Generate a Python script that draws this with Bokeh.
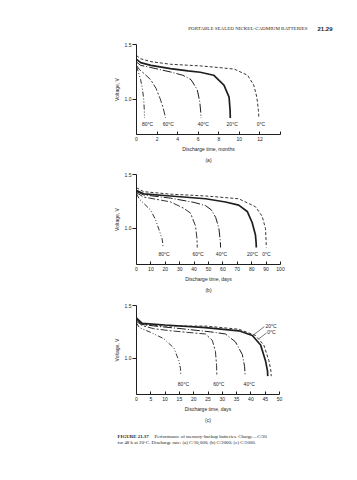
from bokeh.plotting import figure
from bokeh.layouts import column
from bokeh.models import Range1d, FixedTicker, Label, Title, Plot
from bokeh.embed import file_html
from bokeh.resources import INLINE

# ---------------- data ----------------
temps = ["80°C", "60°C", "40°C", "20°C", "0°C"]

# (a) discharge time in months
a_80_x = [0, 0.15, 0.4, 0.6, 0.7, 0.76, 0.78]
a_80_y = [1.30, 1.26, 1.18, 1.08, 1.00, 0.90, 0.83]
a_60_x = [0, 0.3, 0.8, 1.37, 1.9, 2.3, 2.6, 2.75, 2.82]
a_60_y = [1.31, 1.27, 1.23, 1.18, 1.10, 1.006, 0.92, 0.86, 0.83]
a_40_x = [0, 0.4, 1.4, 3.3, 4.5, 5.3, 5.9, 6.15, 6.25, 6.27]
a_40_y = [1.34, 1.31, 1.29, 1.25, 1.22, 1.18, 1.09, 0.98, 0.88, 0.83]
a_20_x = [0, 0.4, 1.4, 3.3, 5.0, 6.2, 7.5, 8.5, 9.0, 9.1, 9.12]
a_20_y = [1.365, 1.335, 1.31, 1.28, 1.26, 1.247, 1.22, 1.13, 1.02, 0.90, 0.83]
a_0_x = [0, 0.4, 1.4, 3.3, 6.2, 8.0, 9.5, 10.8, 11.4, 11.7, 11.85, 11.9]
a_0_y = [1.40, 1.37, 1.344, 1.32, 1.305, 1.29, 1.276, 1.22, 1.13, 1.02, 0.90, 0.83]
a_ticks = [0, 2, 4, 6, 8, 10, 12, 14]

# (b) discharge time in days
b_80_x = [0, 2, 5.1, 9.7, 13.2, 16.2, 17.8, 18.3, 18.4]
b_80_y = [1.32, 1.27, 1.23, 1.17, 1.08, 0.965, 0.90, 0.85, 0.82]
b_60_x = [0, 5, 23.6, 32.9, 37.5, 41, 42, 42.2]
b_60_y = [1.33, 1.29, 1.245, 1.185, 1.14, 1.02, 0.90, 0.82]
b_40_x = [0, 5, 23.6, 40, 48, 52, 55, 57.2, 58.2, 58.4]
b_40_y = [1.34, 1.31, 1.28, 1.24, 1.21, 1.17, 1.10, 1.00, 0.88, 0.82]
b_20_x = [0, 5, 23.6, 48, 61.8, 71, 76.9, 80.3, 82.6, 83.1, 83.2]
b_20_y = [1.35, 1.32, 1.30, 1.274, 1.244, 1.215, 1.156, 1.053, 0.936, 0.86, 0.82]
b_0_x = [0, 5, 23.6, 48, 71, 82.6, 87.3, 89.6, 90, 90.1]
b_0_y = [1.377, 1.34, 1.317, 1.30, 1.274, 1.20, 1.11, 0.995, 0.88, 0.82]
b_ticks = [0, 10, 20, 30, 40, 50, 60, 70, 80, 90, 100]

# (c) discharge time in days
c_80_x = [0, 1, 4.9, 9.5, 13.1, 14.8, 15.4, 15.5]
c_80_y = [1.335, 1.29, 1.246, 1.186, 1.096, 0.977, 0.90, 0.84]
c_60_x = [0, 2, 6, 12, 20, 24.1, 26.5, 27.6, 28, 28.1]
c_60_y = [1.35, 1.31, 1.28, 1.26, 1.24, 1.23, 1.17, 1.066, 0.93, 0.83]
c_40_x = [0, 2, 8, 14, 25.9, 31.1, 34.6, 37, 37.8, 38]
c_40_y = [1.36, 1.32, 1.30, 1.285, 1.25, 1.23, 1.155, 1.035, 0.92, 0.83]
c_20_x = [0, 2, 10, 24.1, 35.8, 40.5, 43.4, 45.1, 45.8, 45.9]
c_20_y = [1.38, 1.33, 1.315, 1.29, 1.26, 1.216, 1.126, 0.977, 0.88, 0.83]
c_0_x = [0, 2, 10, 24.1, 35.8, 41.6, 44.5, 46.3, 47, 47.1]
c_0_y = [1.37, 1.32, 1.305, 1.305, 1.275, 1.216, 1.126, 0.977, 0.88, 0.83]
c_ticks = [0, 5, 10, 15, 20, 25, 30, 35, 40, 45, 50]

y_ticks = [1.0, 1.5]
y_tick_labels = ["1.0", "1.5"]

header_text = "PORTABLE SEALED NICKEL-CADMIUM BATTERIES"
page_number = "21.29"
caption_head = "FIGURE 21.37"
caption_line1 = "Performance of memory-backup batteries. Charge\u2014C/30"
caption_line2 = "for 48 h at 20°C. Discharge rate: (a) C/10,000; (b) C/2000; (c) C/1000."

# ---------------- styles ----------------
INK = "#1e1e1e"
SANS = "Liberation Sans"
SERIF = "Liberation Serif"
FS = "5px"
CAP_FS = "4.9px"
line_style = {
    "80°C": dict(line_dash="5 2 1 2 1 2", line_width=0.9),
    "60°C": dict(line_dash="7 2 2 2", line_width=0.9),
    "40°C": dict(line_dash="9 2 1 2", line_width=1.0),
    "20°C": dict(line_dash="solid", line_width=1.7),
    "0°C": dict(line_dash="3 2", line_width=0.9),
}
HAS_FRAME_ALIGN = "frame_align" in Plot.properties()


def no_align(p):
    if HAS_FRAME_ALIGN:
        p.frame_align = False


def blank_fig(height):
    p = figure(width=357, height=height, output_backend="svg",
               toolbar_location=None, x_range=Range1d(0, 357),
               y_range=Range1d(height, 0), x_axis_type=None, y_axis_type=None,
               min_border=0)
    p.outline_line_color = None
    p.background_fill_color = "white"
    p.border_fill_color = "white"
    no_align(p)
    return p


def make_fig(height, top, bottom, x_end, y_start, ticks, x_label, series,
             sub, tick_overrides=None, right=77):
    p = figure(width=357, height=height, output_backend="svg",
               toolbar_location=None, x_range=Range1d(0, x_end),
               y_range=Range1d(y_start, 1.5), min_border_left=136,
               min_border_right=right, min_border_top=top,
               min_border_bottom=bottom)
    no_align(p)
    p.outline_line_color = None
    p.xgrid.visible = False
    p.ygrid.visible = False
    p.background_fill_color = "white"
    p.border_fill_color = "white"
    for t, (xs, ys) in zip(temps, series):
        p.line(xs, ys, line_color=INK, **line_style[t])
    xa = p.xaxis[0]
    xa.ticker = FixedTicker(ticks=ticks)
    xa.minor_tick_line_color = None
    xa.major_tick_in = 3
    xa.major_tick_out = 0
    xa.major_label_standoff = 2
    xa.axis_label = x_label
    xa.axis_label_standoff = 2
    xa.axis_label_text_font_style = "normal"
    if tick_overrides:
        xa.major_label_overrides = tick_overrides
    ya = p.yaxis[0]
    ya.ticker = FixedTicker(ticks=y_ticks)
    ya.major_label_overrides = {k: v for k, v in zip(y_ticks, y_tick_labels)}
    ya.minor_tick_line_color = None
    ya.major_tick_in = 0
    ya.major_tick_out = 4
    ya.major_label_standoff = 1
    ya.axis_label = "Voltage, V"
    ya.axis_label_standoff = 2
    ya.axis_label_text_font_style = "normal"
    for ax in (xa, ya):
        ax.axis_line_color = INK
        ax.major_tick_line_color = INK
        ax.major_label_text_font = SANS
        ax.major_label_text_font_size = FS
        ax.major_label_text_color = INK
        ax.axis_label_text_font = SANS
        ax.axis_label_text_font_size = FS
        ax.axis_label_text_color = INK
    p.add_layout(Title(text=sub, align="center", vertical_align="top",
                       standoff=4, text_font=SANS, text_font_size=FS,
                       text_font_style="normal", text_color=INK), "below")
    return p


def temp_labels(p, xs, ys, texts, align="center"):
    for x, y, t in zip(xs, ys, texts):
        p.add_layout(Label(x=x, y=y, text=t, text_font=SANS, text_font_size=FS,
                           text_color=INK, text_align=align,
                           text_baseline="middle"))


# ---------------- header ----------------
ph = blank_fig(36)
ph.add_layout(Label(x=307, y=28.3, text=header_text, text_font=SERIF,
                    text_font_size="5px", text_color=INK, text_align="right",
                    text_baseline="middle"))
ph.add_layout(Label(x=317, y=28.3, text=page_number, text_font=SANS,
                    text_font_size="6px", text_font_style="bold",
                    text_color=INK, text_align="left", text_baseline="middle"))

# ---------------- (a) ----------------
pa = make_fig(130, 8, 27, 14, 0.68, a_ticks, "Discharge time, months",
              [(a_80_x, a_80_y), (a_60_x, a_60_y), (a_40_x, a_40_y),
               (a_20_x, a_20_y), (a_0_x, a_0_y)], "(a)",
              tick_overrides={14: ""})
temp_labels(pa, [1.07, 3.1, 6.5, 9.3, 12.1], [0.775] * 5, temps)

# ---------------- (b) ----------------
pb = make_fig(130, 8, 27, 100, 0.662, b_ticks, "Discharge time, days",
              [(b_80_x, b_80_y), (b_60_x, b_60_y), (b_40_x, b_40_y),
               (b_20_x, b_20_y), (b_0_x, b_0_y)], "(b)")
temp_labels(pb, [19.1, 42.7, 59.0, 80.6, 90.3], [0.757] * 5, temps)

# ---------------- (c) ----------------
pc = make_fig(130, 9, 27, 50, 0.656, c_ticks, "Discharge time, days",
              [(c_80_x, c_80_y), (c_60_x, c_60_y), (c_40_x, c_40_y),
               (c_20_x, c_20_y), (c_0_x, c_0_y)], "(c)", right=78)
temp_labels(pc, [16.4, 28.8, 39.4], [0.76] * 3, temps[:3])
temp_labels(pc, [45.1, 45.7], [1.31, 1.248], temps[3:], align="left")
c_lead_x0 = [44.7, 45.5]
c_lead_y0 = [1.30, 1.240]
c_lead_x1 = [40.7, 42.8]
c_lead_y1 = [1.216, 1.185]
pc.segment(c_lead_x0, c_lead_y0, c_lead_x1, c_lead_y1, line_color=INK,
           line_width=0.6)

# ---------------- caption ----------------
pcap = blank_fig(54)
pcap.add_layout(Label(x=117, y=9.5, text=caption_head, text_font=SERIF,
                      text_font_size=CAP_FS, text_font_style="bold",
                      text_color=INK, text_align="left", text_baseline="middle"))
pcap.add_layout(Label(x=154, y=9.5, text=caption_line1, text_font=SERIF,
                      text_font_size=CAP_FS, text_color=INK, text_align="left",
                      text_baseline="middle"))
pcap.add_layout(Label(x=117, y=15.5, text=caption_line2, text_font=SERIF,
                      text_font_size=CAP_FS, text_color=INK, text_align="left",
                      text_baseline="middle"))

layout = column(ph, pa, pb, pc, pcap, spacing=0)
open("out.html", "w").write(file_html(layout, INLINE))
